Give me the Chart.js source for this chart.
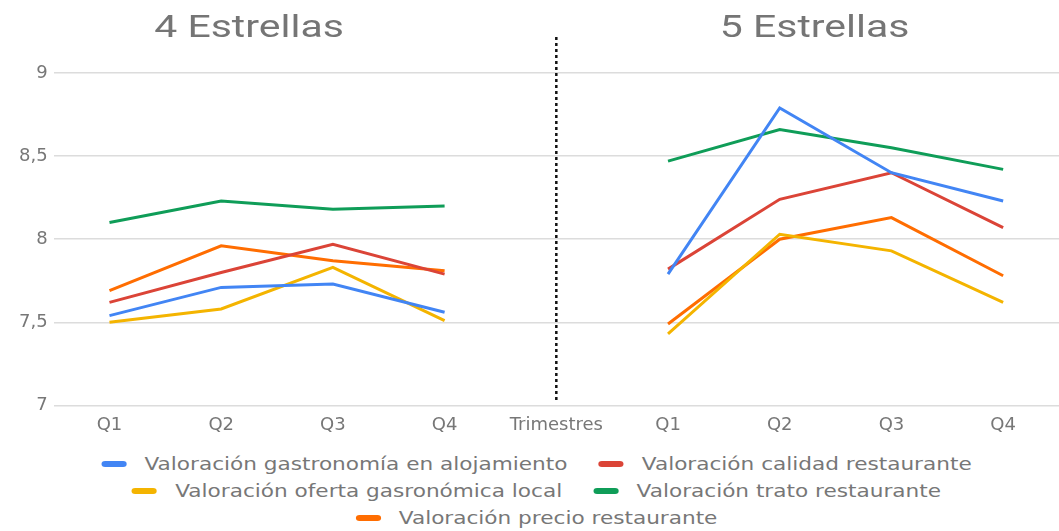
<!DOCTYPE html>
<html>
<head>
<meta charset="utf-8">
<script src="https://cdn.jsdelivr.net/npm/chart.js@4"></script>
<style>
  body { margin: 0; background: #fff; }
  #wrap { position: relative; width: 1059px; height: 531px; overflow: hidden; }
  #chartBox { position: absolute; left: 0; top: 0; width: 1059px; height: 445px; }
  #legend { position: absolute; left: 7px; top: 450px; width: 1059px; }
  .row { height: 27px; display: flex; justify-content: center; align-items: center;
         transform: scaleX(1.2); transform-origin: center; }
  .item { display: flex; align-items: center; margin: 0 13px; white-space: nowrap;
          font: 18px "DejaVu Sans"; color: #777; }
  .box { width: 21px; height: 6px; border-radius: 3px; margin-right: 15px; }
</style>
</head>
<body>
<div id="wrap">
  <div id="chartBox"><canvas id="chart"></canvas></div>
  <div id="legend"></div>
</div>
<script>
// categories: 4 stars Q1-Q4, separator, 5 stars Q1-Q4
var categories = ["Q1", "Q2", "Q3", "Q4", "Trimestres", "Q1", "Q2", "Q3", "Q4"];
var groupTitles = ["4 Estrellas", "5 Estrellas"];

var gastronomia = [7.54, 7.71, 7.73, 7.56, null, 7.79, 8.79, 8.40, 8.23];
var calidad     = [7.62, 7.80, 7.97, 7.79, null, 7.82, 8.24, 8.40, 8.07];
var oferta      = [7.50, 7.58, 7.83, 7.51, null, 7.43, 8.03, 7.93, 7.62];
var trato       = [8.10, 8.23, 8.18, 8.20, null, 8.47, 8.66, 8.55, 8.42];
var precio      = [7.69, 7.96, 7.87, 7.81, null, 7.49, 8.00, 8.13, 7.78];

var seriesNames = [
  "Valoración gastronomía en alojamiento",
  "Valoración calidad restaurante",
  "Valoración oferta gasronómica local",
  "Valoración trato restaurante",
  "Valoración precio restaurante"
];
var colors = ['#4285F4', '#DB4437', '#F4B400', '#0F9D58', '#FF6D01'];
var legendRows = [[0, 1], [2, 3], [4]];

function makeSet(i, vals) {
  return {
    label: seriesNames[i],
    data: vals,
    borderColor: colors[i],
    backgroundColor: colors[i],
    borderWidth: 3,
    pointRadius: 0,
    tension: 0,
    spanGaps: false
  };
}

// dotted separator + group titles
var extras = {
  id: 'extras',
  afterDraw: function(chart) {
    var ctx = chart.ctx;
    var x = chart.scales.x;
    var sep = x.getPixelForValue(4);
    ctx.save();
    ctx.strokeStyle = '#111';
    ctx.lineWidth = 2.5;
    ctx.setLineDash([3, 3]);
    ctx.beginPath();
    ctx.moveTo(sep, 37);
    ctx.lineTo(sep, 400);
    ctx.stroke();
    ctx.setLineDash([]);

    ctx.fillStyle = '#757575';
    ctx.font = '32px Roboto';
    ctx.textAlign = 'center';
    ctx.textBaseline = 'middle';
    var c1 = (x.getPixelForValue(0) + x.getPixelForValue(3)) / 2 - 28;
    var c2 = (x.getPixelForValue(5) + x.getPixelForValue(8)) / 2 - 21;
    // the reference text is drawn a bit wider than normal
    [[c1, groupTitles[0]], [c2, groupTitles[1]]].forEach(function(t) {
      ctx.save();
      ctx.translate(t[0], 29);
      ctx.scale(1.28, 1);
      ctx.fillText(t[1], 0, 0);
      ctx.restore();
    });
    ctx.restore();
  }
};

function buildLegend() {
  var legend = document.getElementById('legend');
  legendRows.forEach(function(r) {
    var row = document.createElement('div');
    row.className = 'row';
    r.forEach(function(i) {
      var item = document.createElement('div');
      item.className = 'item';
      var box = document.createElement('span');
      box.className = 'box';
      box.style.background = colors[i];
      var txt = document.createElement('span');
      txt.textContent = seriesNames[i];
      item.appendChild(box);
      item.appendChild(txt);
      row.appendChild(item);
    });
    legend.appendChild(row);
  });
}

window.onload = function() {
  buildLegend();
  var ctx = document.getElementById('chart').getContext('2d');
  var chart = new Chart(ctx, {
    type: 'line',
    data: {
      labels: categories,
      datasets: [
        makeSet(0, gastronomia),
        makeSet(1, calidad),
        makeSet(2, oferta),
        makeSet(3, trato),
        makeSet(4, precio)
      ]
    },
    options: {
      responsive: true,
      maintainAspectRatio: false,
      animation: false,
      layout: { padding: { top: 73, right: 0, left: 13, bottom: 8 } },
      scales: {
        x: {
          offset: true,
          grid: { display: false },
          border: { display: false },
          ticks: { color: '#777', font: { family: 'DejaVu Sans', size: 18 }, padding: 1 }
        },
        y: {
          min: 7,
          max: 9,
          grid: { color: '#dcdcdc', lineWidth: 1.5, drawTicks: false },
          border: { display: false },
          ticks: {
            stepSize: 0.5,
            color: '#777',
            padding: 6,
            font: { family: 'DejaVu Sans', size: 18 },
            callback: function(v) { return String(v).replace('.', ','); }
          }
        }
      },
      plugins: {
        legend: { display: false },
        tooltip: { enabled: false }
      }
    },
    plugins: [extras]
  });
};
</script>
</body>
</html>
